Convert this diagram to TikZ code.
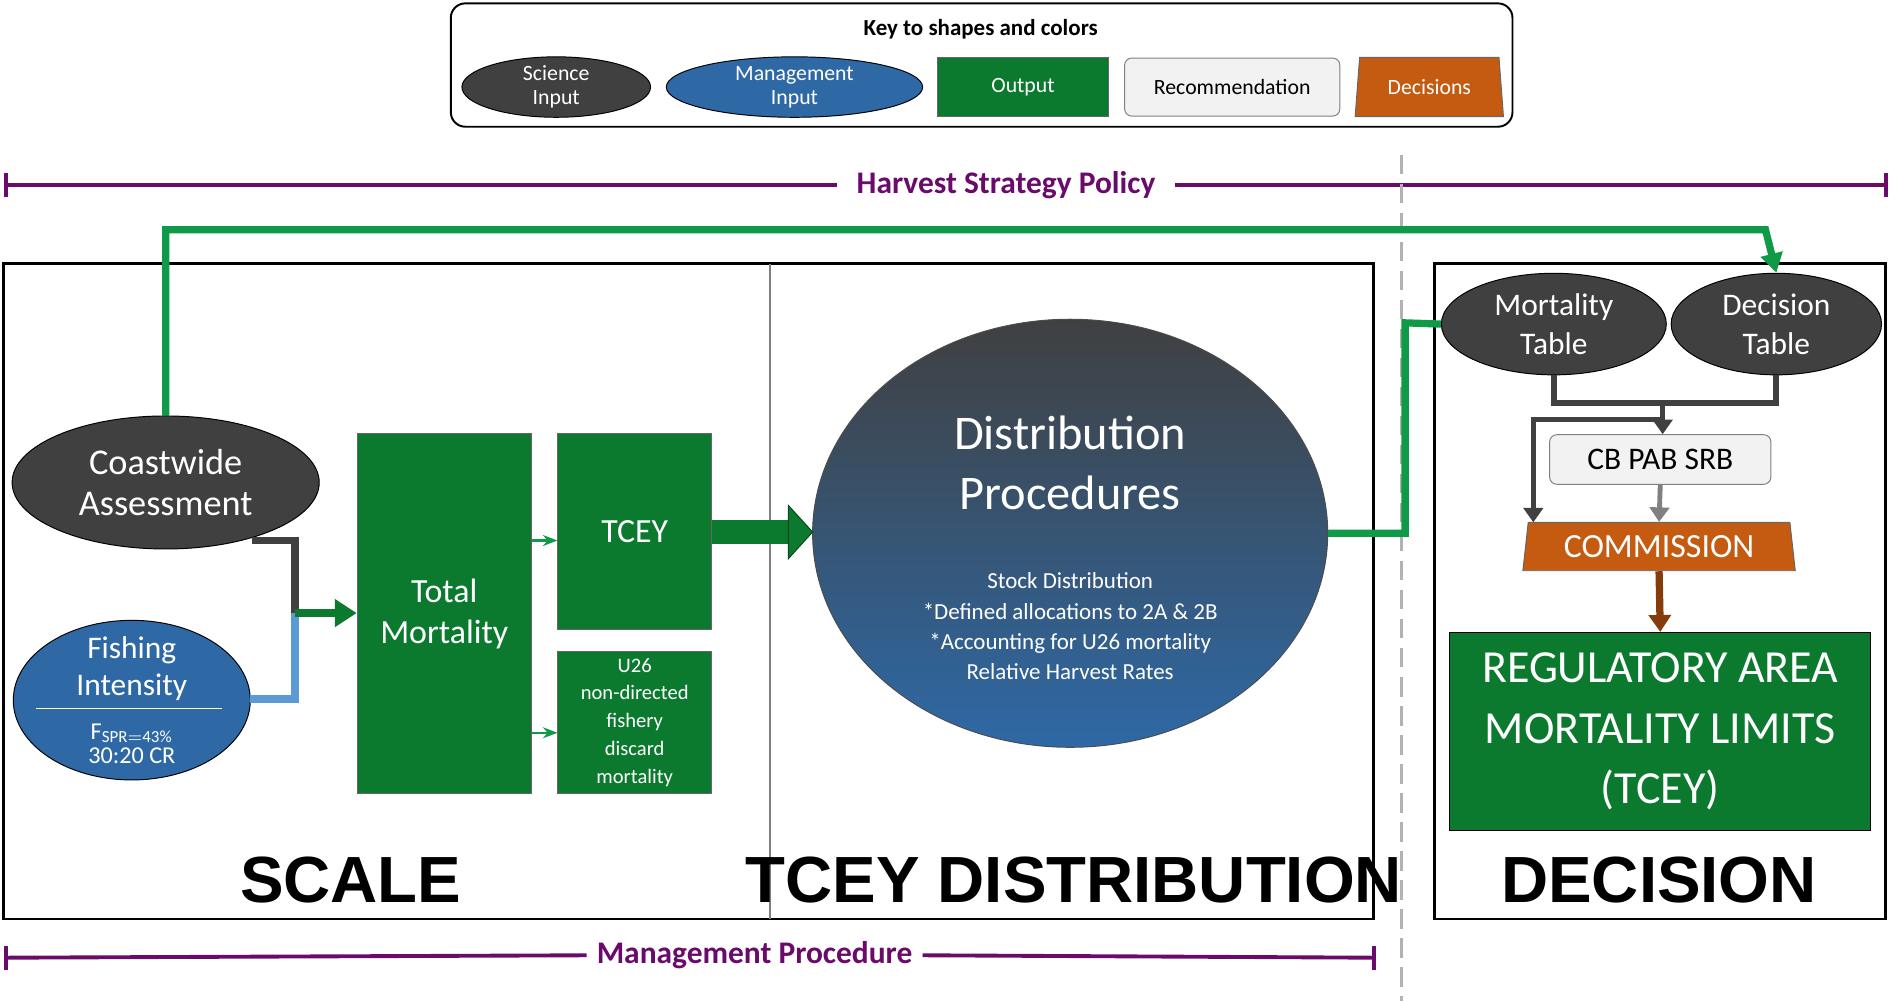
\documentclass[tikz,border=0pt]{standalone}
\usepackage{fontspec}
\setmainfont{Carlito}
\newfontfamily\arialf{Liberation Sans}
\usetikzlibrary{shapes.geometric,arrows.meta}
\definecolor{dk}{HTML}{404040}
\definecolor{bl}{HTML}{2E69A6}
\definecolor{gr}{HTML}{0B7A2E}
\definecolor{orc}{HTML}{C55A11}
\definecolor{pu}{HTML}{6A0A6A}
\definecolor{lg}{HTML}{F2F2F2}
\definecolor{lb}{HTML}{5B9BD5}
\definecolor{gline}{HTML}{0F9A48}
\definecolor{br}{HTML}{843C0C}
\begin{document}
\begin{tikzpicture}[x=0.5pt,y=-0.5pt,
  sci/.style={ellipse,draw=black,fill=dk,text=white,inner sep=0,align=center},
  man/.style={ellipse,draw=black,fill=bl,text=white,inner sep=0,align=center},
  outb/.style={draw=black!60,fill=gr,text=white,inner sep=0,align=center},
  rec/.style={draw=black!50,fill=lg,rounded corners=3pt,inner sep=0,align=center},
  decs/.style={trapezium,trapezium left angle=80,trapezium right angle=80,draw=black!60,fill=orc,text=white,inner sep=0,trapezium stretches=true},
  big/.style={font=\arialf\bfseries\fontsize{27}{30}\selectfont},
  pol/.style={pu,line width=1.6pt}]
\useasboundingbox (0,0) rectangle (1563,828);
% key
\node[draw,rounded corners=6pt,minimum width=439pt,minimum height=51pt,anchor=north west,line width=0.8pt] (key) at (372,2) {};
\node[font=\bfseries\fontsize{9.5}{11}\selectfont] (kt) at (811,24) {Key to shapes and colors};
\node[sci,minimum width=78pt,minimum height=25pt,font=\fontsize{9}{10}\selectfont] (k1) at (460,72) {Science\\Input};
\node[man,minimum width=106pt,minimum height=25pt,font=\fontsize{9}{10}\selectfont] (k2) at (657,72) {Management\\Input};
\node[outb,minimum width=71pt,minimum height=24.5pt,font=\fontsize{9}{10}\selectfont] (k3) at (846,72) {Output};
\node[rec,minimum width=89pt,minimum height=24pt,font=\fontsize{9}{10}\selectfont] (k4) at (1019,72) {Recommendation};
\node[decs,minimum width=61.5pt,minimum height=24.5pt,font=\fontsize{9}{10}\selectfont] (k5) at (1182,72) {Decisions};
% policy line
\node[text=pu,font=\bfseries\fontsize{13}{15}\selectfont,fill=white,inner xsep=8pt] (hsp) at (832,153) {Harvest Strategy Policy};
\coordinate (h1) at (5,153); \coordinate (h2) at (1560,153);
\draw[pol] (h1) -- (hsp.west) (hsp.east) -- (h2);
\draw[pol] (5,143)--(5,163) (1560,143)--(1560,163);
% dashed
\draw[black!30,line width=1.5pt,dash pattern=on 8pt off 4pt] (1159,128) -- (1159,828);
% boxes
\draw[line width=1.2pt] (3,218) rectangle (1136,760);
\draw[black!50,line width=1pt] (637,218) -- (637,760);
\draw[line width=1.2pt] (1186,218) rectangle (1559,760);
\node[big] (lscale) at (290,728) {SCALE};
\node[big] (ltcey) at (888,728) {TCEY DISTRIBUTION};
\node[big] (ldec) at (1372,728) {DECISION};
% management procedure
\node[text=pu,font=\bfseries\fontsize{13}{15}\selectfont,fill=white,inner xsep=4pt] (mp) at (624,790) {Management Procedure};
\draw[pol] (5,792) -- (mp.west) (mp.east) -- (1136,792);
\draw[pol] (5,782)--(5,802) (1136,782)--(1136,802);
% scale nodes
\node[sci,minimum width=127pt,minimum height=55pt,font=\fontsize{15}{17}\selectfont] (ca) at (137,399) {Coastwide\\Assessment};
\node[man,minimum width=98pt,minimum height=66pt] (fi) at (109,579) {};
\node[white,font=\fontsize{13}{15}\selectfont,align=center] (fit) at (109,553) {Fishing\\Intensity};
\draw[white] (30,586) -- (184,586);
\node[white,font=\fontsize{10}{12}\selectfont,align=center] (fis) at (109,615) {F$_{\mathrm{SPR=43\%}}$\\[-2pt]30:20 CR};
\node[outb,minimum width=72pt,minimum height=149pt,anchor=north west,font=\fontsize{14}{17}\selectfont] (tm) at (295,358) {Total\\Mortality};
\node[outb,minimum width=63.5pt,minimum height=81pt,anchor=north west,font=\fontsize{14}{17}\selectfont] (tc) at (461,358) {TCEY};
\node[outb,minimum width=63.5pt,minimum height=59pt,anchor=north west,font=\fontsize{8.5}{11.5}\selectfont] (u26) at (461,538) {U26\\non-directed\\fishery\\discard\\mortality};
\coordinate (jn) at (244,507);
\draw[dk,line width=3pt] (208,447) -- (244,447) -- (244,507);
\draw[lb,line width=3pt] (207,578) -- (244,578) -- (244,507);
\draw[gr,line width=3pt,-{Triangle[length=9pt,width=11pt]}] (jn) -- (tm.west |- jn);
\draw[gline,line width=1pt,-{Stealth[length=6pt]}] (tm.east |- 0,447) -- (tc.west |- 0,447);
\draw[gline,line width=1pt,-{Stealth[length=6pt]}] (tm.east |- 0,606) -- (u26.west |- 0,606);
% distribution
\node[ellipse,draw=black!70,minimum width=213pt,minimum height=177pt,top color=dk,middle color=bl,bottom color=bl] (dp) at (885,441) {};
\node[white,font=\fontsize{20}{25}\selectfont,align=center] (dpt) at (885,383) {Distribution\\Procedures};
\node[white,font=\fontsize{9.5}{12.5}\selectfont,align=center] (dps) at (885,518) {Stock Distribution\\*Defined allocations to 2A \& 2B\\*Accounting for U26 mortality\\Relative Harvest Rates};
\draw[gr,line width=10pt] (tc.east |- 0,440) -- (652,440);
\fill[gr,draw=gr!60!black] (652,418) -- (672,440) -- (652,462) -- cycle;
% decision
\node[sci,minimum width=93pt,minimum height=42pt,font=\fontsize{13}{16}\selectfont] (mt) at (1285,268) {Mortality\\Table};
\node[sci,minimum width=87pt,minimum height=42pt,font=\fontsize{13}{16}\selectfont] (dt) at (1469,268) {Decision\\Table};
\node[rec,minimum width=91.5pt,minimum height=20.5pt,font=\fontsize{13}{15}\selectfont] (cb) at (1373,380) {CB PAB SRB};
\node[decs,minimum width=113.5pt,minimum height=20pt,font=\fontsize{14}{16}\selectfont] (com) at (1372,452) {COMMISSION};
\node[outb,minimum width=174pt,minimum height=82pt,font=\fontsize{19}{25}\selectfont,draw=black] (reg) at (1373,605) {REGULATORY AREA\\MORTALITY LIMITS\\(TCEY)};
\draw[gline,line width=3pt] (dp.east) -- (1162,441) -- (1162,267) -- (mt.west);
\draw[gline,line width=3pt,-{Triangle[length=8pt,width=9pt]}] (ca.north) -- (137,190) -- (1460,190) -- (dt.north);
\draw[dk,line width=2.5pt] (mt.south) -- (1285,333) -- (1469,333) -- (dt.south);
\draw[dk,line width=2pt,-{Triangle[length=6pt,width=8pt]}] (1375,333) -- (cb.north -| 1375,0);
\draw[dk,line width=2pt,-{Triangle[length=6pt,width=8pt]}] (1375,347) -- (1268,347) -- (1268,432);
\draw[black!50,line width=2pt,-{Triangle[length=6pt,width=8pt]}] (cb.south) -- (com.north);
\draw[br,line width=3pt,-{Triangle[length=7pt,width=9pt]}] (com.south) -- (reg.north);
\end{tikzpicture}
\end{document}
